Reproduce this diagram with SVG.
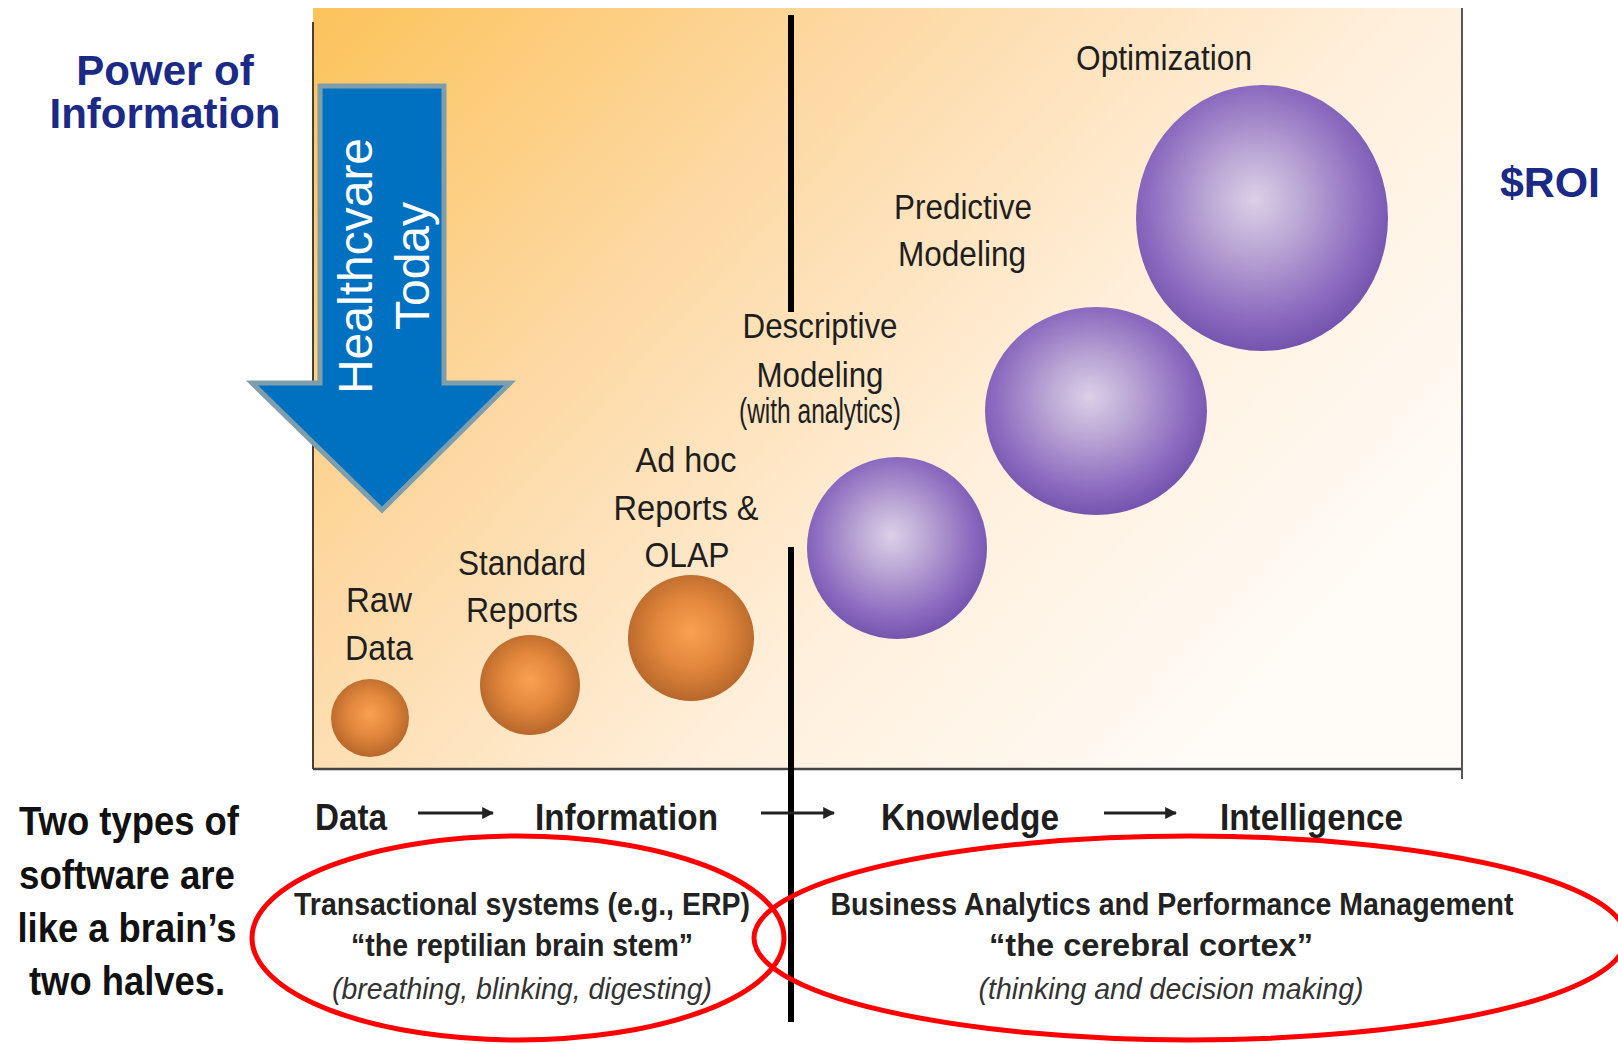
<svg xmlns="http://www.w3.org/2000/svg" width="1618" height="1044" viewBox="0 0 1618 1044">
  <style>
    .lbl { font-family: "Liberation Sans", Arial, sans-serif; font-size: 35px; fill: #1e1e1e; text-anchor: middle; }
    .axis { font-family: "Liberation Sans", Arial, sans-serif; font-size: 36px; font-weight: bold; fill: #1e1e1e; }
    .side { font-family: "Liberation Sans", Arial, sans-serif; font-size: 40px; font-weight: bold; fill: #111; text-anchor: middle; }
    .navy { font-family: "Liberation Sans", Arial, sans-serif; font-weight: bold; fill: #1b2a86; text-anchor: middle; }
    .sys { font-family: "Liberation Sans", Arial, sans-serif; font-size: 31px; font-weight: bold; fill: #222; text-anchor: middle; }
    .sysi { font-family: "Liberation Sans", Arial, sans-serif; font-size: 30px; font-style: italic; fill: #333; text-anchor: middle; }
    .hc { font-family: "Liberation Sans", Arial, sans-serif; font-size: 48px; fill: #ffffff; text-anchor: middle; }
    .ring { fill: none; stroke: #ff0000; stroke-width: 5; }
    .conn { stroke: #222; stroke-width: 3; fill: none; }
    .divider { stroke: #000; stroke-width: 6; }
  </style>
  <defs>
    <linearGradient id="panelFill" gradientUnits="userSpaceOnUse" x1="313" y1="8" x2="1160" y2="800">
      <stop offset="0" stop-color="#fcc35a"/>
      <stop offset="0.35" stop-color="#fdd8a2"/>
      <stop offset="0.7" stop-color="#fff0dd"/>
      <stop offset="1" stop-color="#fffbf6"/>
    </linearGradient>
    <radialGradient id="orangeBall" cx="0.5" cy="0.47" r="0.55" fx="0.5" fy="0.45">
      <stop offset="0" stop-color="#f9a152"/>
      <stop offset="0.5" stop-color="#e2873c"/>
      <stop offset="1" stop-color="#b4652a"/>
    </radialGradient>
    <radialGradient id="purpleBall" cx="0.48" cy="0.45" r="0.56" fx="0.47" fy="0.43">
      <stop offset="0" stop-color="#dcd0e8"/>
      <stop offset="0.35" stop-color="#baa5d4"/>
      <stop offset="0.78" stop-color="#8b6abf"/>
      <stop offset="1" stop-color="#7352ad"/>
    </radialGradient>
    <marker id="tip" viewBox="0 0 10 10" refX="9" refY="5" markerWidth="4" markerHeight="4" orient="auto" markerUnits="strokeWidth">
      <path d="M0,0 L10,5 L0,10 z" fill="#222"/>
    </marker>
  </defs>

  <rect width="1618" height="1044" fill="#ffffff"/>

  <!-- chart panel -->
  <g id="panel">
    <rect x="313" y="8" width="1149" height="761" fill="url(#panelFill)"/>
    <line x1="313" y1="22" x2="313" y2="769" stroke="#4a4030" stroke-width="2"/>
    <line x1="313" y1="769" x2="1462" y2="769" stroke="#444" stroke-width="2.5"/>
    <line x1="1462" y1="8" x2="1462" y2="779" stroke="#555" stroke-width="2"/>
  </g>

  <!-- axis titles -->
  <g id="power-of-information">
    <text class="navy" font-size="42" x="165" y="85">Power of</text>
    <text class="navy" font-size="42" x="165" y="128">Information</text>
  </g>
  <g id="roi">
    <text class="navy" font-size="42" x="1550" y="197" textLength="100" lengthAdjust="spacingAndGlyphs">$ROI</text>
  </g>

  <!-- divider between the two software halves -->
  <g id="divider">
    <line class="divider" x1="791" y1="15" x2="791" y2="312"/>
    <line class="divider" x1="791" y1="547" x2="791" y2="1022"/>
  </g>

  <!-- stages -->
  <g id="raw-data">
    <circle cx="370" cy="718" r="39" fill="url(#orangeBall)"/>
    <text class="lbl" x="379" y="612" textLength="66" lengthAdjust="spacingAndGlyphs">Raw</text>
    <text class="lbl" x="379" y="660" textLength="68" lengthAdjust="spacingAndGlyphs">Data</text>
  </g>
  <g id="standard-reports">
    <circle cx="530" cy="685" r="50" fill="url(#orangeBall)"/>
    <text class="lbl" x="522" y="575" textLength="128" lengthAdjust="spacingAndGlyphs">Standard</text>
    <text class="lbl" x="522" y="622" textLength="112" lengthAdjust="spacingAndGlyphs">Reports</text>
  </g>
  <g id="adhoc-olap">
    <circle cx="691" cy="638" r="63" fill="url(#orangeBall)"/>
    <text class="lbl" x="686" y="472" textLength="101" lengthAdjust="spacingAndGlyphs">Ad hoc</text>
    <text class="lbl" x="686" y="520" textLength="145" lengthAdjust="spacingAndGlyphs">Reports &amp;</text>
    <text class="lbl" x="687" y="567" textLength="85" lengthAdjust="spacingAndGlyphs">OLAP</text>
  </g>
  <g id="descriptive-modeling">
    <ellipse cx="897" cy="548" rx="90" ry="91" fill="url(#purpleBall)"/>
    <text class="lbl" x="820" y="338" textLength="155" lengthAdjust="spacingAndGlyphs">Descriptive</text>
    <text class="lbl" x="820" y="387" textLength="127" lengthAdjust="spacingAndGlyphs">Modeling</text>
    <text class="lbl" x="820" y="423" font-size="27" textLength="162" lengthAdjust="spacingAndGlyphs">(with analytics)</text>
  </g>
  <g id="predictive-modeling">
    <ellipse cx="1096" cy="411" rx="111" ry="104" fill="url(#purpleBall)"/>
    <text class="lbl" x="963" y="219" textLength="138" lengthAdjust="spacingAndGlyphs">Predictive</text>
    <text class="lbl" x="962" y="266" textLength="128" lengthAdjust="spacingAndGlyphs">Modeling</text>
  </g>
  <g id="optimization">
    <ellipse cx="1262" cy="218" rx="126" ry="133" fill="url(#purpleBall)"/>
    <text class="lbl" x="1164" y="70" font-size="36" textLength="176" lengthAdjust="spacingAndGlyphs">Optimization</text>
  </g>

  <!-- current position marker -->
  <g id="healthcare-today">
    <polygon points="320,86 444,86 444,383 510,383 382,510 252,383 320,383" fill="#0070c0" stroke="#7f9eab" stroke-width="5" stroke-linejoin="miter"/>
    <text class="hc" transform="translate(372,266) rotate(-90)">Healthcvare</text>
    <text class="hc" transform="translate(429,266) rotate(-90)">Today</text>
  </g>

  <!-- progression along the horizontal axis -->
  <g id="axis-labels">
    <text class="axis" x="315" y="830" textLength="72" lengthAdjust="spacingAndGlyphs">Data</text>
    <text class="axis" x="535" y="830" textLength="183" lengthAdjust="spacingAndGlyphs">Information</text>
    <text class="axis" x="881" y="830" textLength="178" lengthAdjust="spacingAndGlyphs">Knowledge</text>
    <text class="axis" x="1220" y="830" textLength="183" lengthAdjust="spacingAndGlyphs">Intelligence</text>
  </g>
  <g id="connectors">
    <line class="conn" x1="418" y1="813" x2="493" y2="813" marker-end="url(#tip)"/>
    <line class="conn" x1="761" y1="813" x2="834" y2="813" marker-end="url(#tip)"/>
    <line class="conn" x1="1104" y1="813" x2="1176" y2="813" marker-end="url(#tip)"/>
  </g>

  <!-- caption on the left -->
  <g id="brain-caption">
    <text class="side" x="129" y="835" textLength="220" lengthAdjust="spacingAndGlyphs">Two types of</text>
    <text class="side" x="127" y="889" textLength="216" lengthAdjust="spacingAndGlyphs">software are</text>
    <text class="side" x="127" y="942" textLength="219" lengthAdjust="spacingAndGlyphs">like a brain’s</text>
    <text class="side" x="127" y="995" textLength="196" lengthAdjust="spacingAndGlyphs">two halves.</text>
  </g>

  <!-- the two software families -->
  <g id="transactional-systems">
    <ellipse class="ring" cx="518" cy="938" rx="266" ry="102"/>
    <text class="sys" x="522" y="915" textLength="456" lengthAdjust="spacingAndGlyphs">Transactional systems (e.g., ERP)</text>
    <text class="sys" x="522" y="956" textLength="342" lengthAdjust="spacingAndGlyphs">“the reptilian brain stem”</text>
    <text class="sysi" x="522" y="999" textLength="380" lengthAdjust="spacingAndGlyphs">(breathing, blinking, digesting)</text>
  </g>
  <g id="business-analytics">
    <ellipse class="ring" cx="1190" cy="938" rx="436" ry="102"/>
    <text class="sys" x="1172" y="915" textLength="683" lengthAdjust="spacingAndGlyphs">Business Analytics and Performance Management</text>
    <text class="sys" x="1151" y="956" textLength="324" lengthAdjust="spacingAndGlyphs">“the cerebral cortex”</text>
    <text class="sysi" x="1171" y="999" textLength="385" lengthAdjust="spacingAndGlyphs">(thinking and decision making)</text>
  </g>
</svg>
